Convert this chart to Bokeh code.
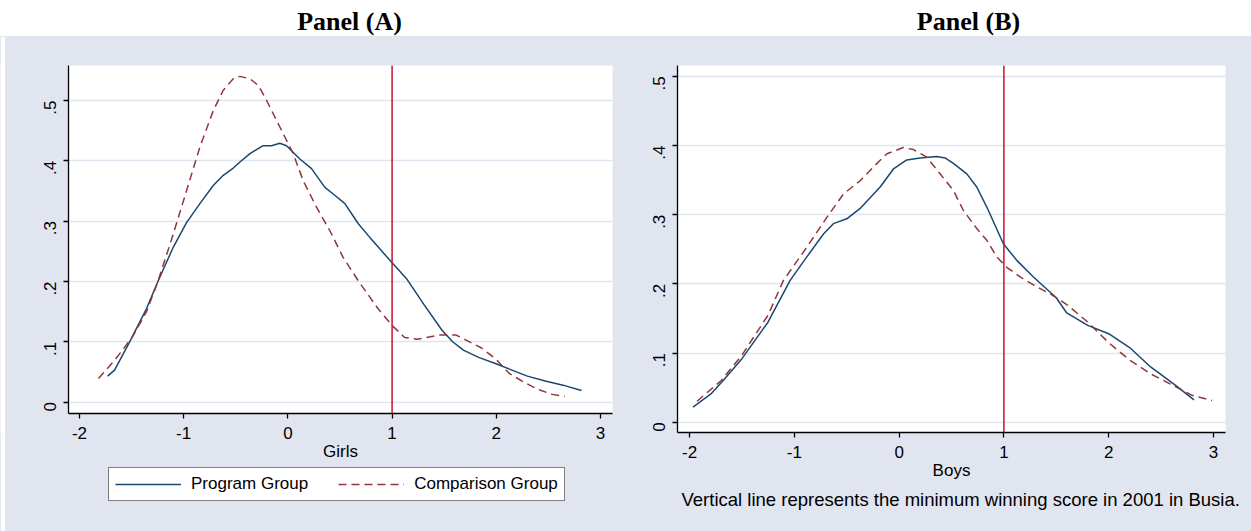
import math
from bokeh.plotting import figure
from bokeh.models import Range1d, FixedTicker, Span, Legend, LegendItem, Title
from bokeh.layouts import column, row
from bokeh.embed import file_html
from bokeh.resources import INLINE
from bokeh.core.properties import value

# ---------------- data ----------------
panel_titles = ["Panel (A)", "Panel (B)"]
series_names = ["Program Group", "Comparison Group"]
x_labels = ["Girls", "Boys"]
note_text = "Vertical line represents the minimum winning score in 2001 in Busia."
threshold = 1.0

x_ticks = [-2, -1, 0, 1, 2, 3]
x_tick_labels = ["-2", "-1", "0", "1", "2", "3"]
y_ticks = [0, 0.1, 0.2, 0.3, 0.4, 0.5]
y_tick_labels = ["0", ".1", ".2", ".3", ".4", ".5"]

girls_prog_x = [-1.73, -1.663, -1.527, -1.356, -1.243, -1.099, -0.971, -0.844, -0.716, -0.620,
                -0.524, -0.460, -0.364, -0.237, -0.157, -0.077, -0.013, 0.115, 0.227, 0.355,
                0.435, 0.547, 0.674, 0.786, 0.882, 0.994, 1.137, 1.308, 1.479, 1.581,
                1.684, 1.83, 1.991, 2.15, 2.298, 2.47, 2.64, 2.818]
girls_prog_y = [0.043, 0.053, 0.097, 0.155, 0.2015, 0.257, 0.298, 0.329, 0.359, 0.376,
                0.388, 0.398, 0.412, 0.425, 0.425, 0.429, 0.425, 0.403, 0.387, 0.356,
                0.345, 0.329, 0.296, 0.273, 0.254, 0.232, 0.205, 0.161, 0.119, 0.100,
                0.086, 0.074, 0.064, 0.053, 0.043, 0.035, 0.028, 0.019]

girls_comp_x = [-1.817, -1.663, -1.492, -1.356, -1.253, -1.117, -0.971, -0.844, -0.716, -0.620,
                -0.524, -0.460, -0.364, -0.284, -0.204, -0.077, 0.051, 0.147, 0.275, 0.403,
                0.530, 0.674, 0.864, 1.0, 1.12, 1.24, 1.445, 1.615, 1.855, 1.991,
                2.128, 2.264, 2.40, 2.537, 2.657]
girls_comp_y = [0.039, 0.069, 0.108, 0.150, 0.197, 0.269, 0.351, 0.423, 0.483, 0.517,
                0.536, 0.540, 0.536, 0.525, 0.500, 0.456, 0.412, 0.367, 0.323, 0.284,
                0.240, 0.2015, 0.155, 0.127, 0.107, 0.104, 0.111, 0.111, 0.090, 0.072,
                0.047, 0.033, 0.021, 0.0127, 0.0094]

boys_prog_x = [-1.967, -1.796, -1.681, -1.5, -1.25, -1.040, -0.881, -0.722, -0.627, -0.499,
               -0.372, -0.181, -0.054, 0.073, 0.200, 0.360, 0.439, 0.518, 0.646, 0.741,
               0.837, 0.995, 1.123, 1.282, 1.5, 1.6, 1.8, 2.0, 2.2, 2.4,
               2.642, 2.814]
boys_prog_y = [0.022, 0.041, 0.060, 0.092, 0.145, 0.205, 0.239, 0.272, 0.287, 0.294,
               0.309, 0.340, 0.366, 0.379, 0.382, 0.384, 0.382, 0.374, 0.359, 0.340,
               0.311, 0.258, 0.234, 0.210, 0.180, 0.158, 0.140, 0.128, 0.108, 0.080,
               0.053, 0.0325]

boys_comp_x = [-1.929, -1.70, -1.5, -1.25, -1.104, -0.881, -0.690, -0.531, -0.372, -0.245,
               -0.117, 0.041, 0.137, 0.264, 0.391, 0.518, 0.614, 0.741, 0.837, 0.932,
               1.028, 1.155, 1.3, 1.45, 1.6, 1.8, 2.0, 2.2, 2.4, 2.53,
               2.795, 2.985]
boys_comp_y = [0.0305, 0.060, 0.097, 0.155, 0.205, 0.253, 0.296, 0.330, 0.349, 0.369,
               0.388, 0.397, 0.394, 0.383, 0.359, 0.335, 0.306, 0.280, 0.263, 0.239,
               0.224, 0.210, 0.197, 0.185, 0.170, 0.145, 0.115, 0.090, 0.070, 0.060,
               0.039, 0.0315]

# ---------------- style ----------------
BG = "#e1e5f0"
GRID = "#dfe5ee"
NAVY = "#1a476f"
MAROON = "#90353b"
RED = "#c8102e"
FONT = "Liberation Sans"
SERIF = "Liberation Serif"
DASH = "8 5"

TOTAL_W = 1251
HEAD_H = 36
PAD_W = 5
LEFT_W = 620 - PAD_W
RIGHT_W = TOTAL_W - 620
PANEL_H = 531 - HEAD_H
LEG_H = 67

header = figure(width=TOTAL_W, height=HEAD_H, x_range=Range1d(0, TOTAL_W), y_range=Range1d(0, HEAD_H),
                toolbar_location=None, output_backend="svg",
                x_axis_location=None, y_axis_location=None, min_border=0)
header.outline_line_color = None
header.grid.visible = False
header.background_fill_color = "white"
header.border_fill_color = "white"
header.text(x=[349, 968], y=[15, 15], text=panel_titles, text_font=value(SERIF),
            text_font_style="bold", text_font_size="26px", text_align="center",
            text_baseline="middle", text_color="black")

pad = figure(width=PAD_W, height=PANEL_H, toolbar_location=None, output_backend="svg",
             x_axis_location=None, y_axis_location=None, min_border=0)
pad.outline_line_color = None
pad.grid.visible = False
pad.background_fill_color = "white"
pad.border_fill_color = "white"


def make_panel(frame_w, frame_h, xr, yr, mb_left, mb_right, mb_top, mb_bottom, xlab, px, py, cx, cy):
    p = figure(frame_width=frame_w, frame_height=frame_h,
               x_range=Range1d(*xr), y_range=Range1d(*yr),
               toolbar_location=None, output_backend="svg",
               min_border_left=mb_left, min_border_right=mb_right,
               min_border_top=mb_top, min_border_bottom=mb_bottom)
    p.border_fill_color = BG
    p.background_fill_color = "white"
    p.outline_line_color = None
    p.xgrid.visible = False
    p.ygrid.grid_line_color = GRID
    p.ygrid.grid_line_width = 1.5
    p.xaxis.ticker = FixedTicker(ticks=x_ticks)
    p.xaxis.major_label_overrides = {t: l for t, l in zip(x_ticks, x_tick_labels)}
    p.yaxis.ticker = FixedTicker(ticks=y_ticks)
    p.yaxis.major_label_overrides = {t: l for t, l in zip(y_ticks, y_tick_labels)}
    p.yaxis.major_label_orientation = math.pi / 2
    for ax in (p.xaxis[0], p.yaxis[0]):
        ax.axis_line_color = "black"
        ax.axis_line_width = 1.3
        ax.major_tick_line_color = "black"
        ax.major_tick_line_width = 1.3
        ax.major_tick_out = 5
        ax.major_tick_in = 0
        ax.minor_tick_line_color = None
        ax.major_label_text_font = FONT
        ax.major_label_text_font_size = "17px"
        ax.major_label_text_color = "black"
        ax.axis_label_text_font = FONT
        ax.axis_label_text_font_size = "17px"
        ax.axis_label_text_font_style = "normal"
        ax.axis_label_text_color = "black"
    p.xaxis.axis_label = xlab
    p.xaxis.axis_label_standoff = 0
    p.xaxis.major_label_standoff = 8
    p.yaxis.major_label_standoff = 13
    p.add_layout(Span(location=threshold, dimension="height", line_color=RED, line_width=1.5))
    r1 = p.line(px, py, line_color=NAVY, line_width=1.5)
    r2 = p.line(cx, cy, line_color=MAROON, line_width=1.5, line_dash=DASH)
    return p


# panel A: frame 544 x 348, frame left at page x 68, top at 65
A_LEFT = 68 - PAD_W
pA = make_panel(544, 348, (-2.105, 3.115), (-0.019, 0.558), A_LEFT, LEFT_W - A_LEFT - 544, 65 - HEAD_H,
                PANEL_H - LEG_H - (65 - HEAD_H) - 348, x_labels[0],
                girls_prog_x, girls_prog_y, girls_comp_x, girls_comp_y)
# panel B: frame 548 x 367, frame left at page x 677, top at 65
pB = make_panel(548, 367, (-2.115, 3.115), (-0.0147, 0.5155), 57, RIGHT_W - 57 - 548, 65 - HEAD_H,
                PANEL_H - (65 - HEAD_H) - 367, x_labels[1],
                boys_prog_x, boys_prog_y, boys_comp_x, boys_comp_y)

note = Title(text=note_text, align="left", text_font=FONT, text_font_size="18.5px",
             text_font_style="normal", text_color="black", offset=4, standoff=8)
pB.add_layout(note, "below")

# legend strip under panel A (its frame is aligned with panel A's frame)
leg = figure(width=LEFT_W, height=LEG_H, x_range=Range1d(0, 1), y_range=Range1d(10, 11),
             toolbar_location=None, output_backend="svg",
             x_axis_location=None, y_axis_location=None, min_border=0)
leg.outline_line_color = None
leg.grid.visible = False
leg.background_fill_color = BG
leg.border_fill_color = BG
k1 = leg.line(girls_prog_x, girls_prog_y, line_color=NAVY, line_width=1.5)
k2 = leg.line(girls_comp_x, girls_comp_y, line_color=MAROON, line_width=1.5, line_dash=DASH)
legend = Legend(items=[LegendItem(label=series_names[0], renderers=[k1]),
                       LegendItem(label=series_names[1], renderers=[k2])],
                orientation="horizontal", location=(108 - 68, LEG_H - 5 - 32))
legend.border_line_color = "black"
legend.border_line_width = 1
legend.background_fill_color = "white"
legend.background_fill_alpha = 1
legend.label_text_font = FONT
legend.label_text_font_size = "17px"
legend.label_text_color = "black"
legend.glyph_width = 66
legend.glyph_height = 18
legend.label_standoff = 10
legend.spacing = 30
legend.padding = 6
legend.margin = 0
leg.add_layout(legend, "center")

layout = column(header, row(pad, column(pA, leg), pB, styles={"background-color": BG}))
open("out.html", "w").write(file_html(layout, INLINE))
